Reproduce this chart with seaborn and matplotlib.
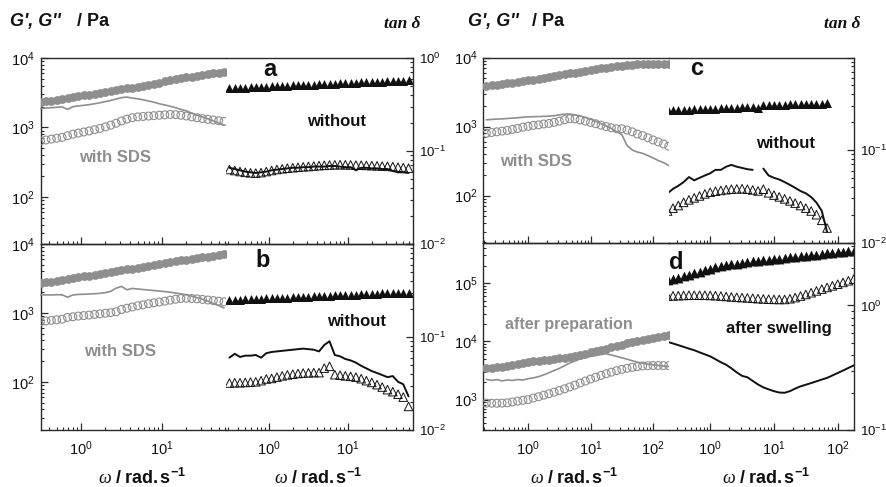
import numpy as np
import matplotlib
matplotlib.use("Agg")
import matplotlib.pyplot as plt
import seaborn as sns
from matplotlib.ticker import LogLocator, NullFormatter, FuncFormatter

# ---------------------------------------------------------------- data
# angular frequency grids (rad/s)
omega_L = [0.316, 0.369, 0.43, 0.501, 0.584, 0.681, 0.794, 0.926, 1.08, 1.26,
           1.47, 1.71, 2.0, 2.33, 2.71, 3.16, 3.69, 4.3, 5.01, 5.84,
           6.81, 7.94, 9.26, 10.8, 12.6, 14.7, 17.1, 20.0, 23.3, 27.1,
           31.6, 36.9, 43.0, 50.1, 58.4]
omega_R = [0.215, 0.261, 0.316, 0.383, 0.464, 0.562, 0.681, 0.825, 1.0, 1.21,
           1.47, 1.78, 2.15, 2.61, 3.16, 3.83, 4.64, 5.62, 6.81, 8.25,
           10.0, 12.1, 14.7, 17.8, 21.5, 26.1, 31.6, 38.3, 46.4, 56.2,
           68.1, 82.5, 100, 121, 147, 178]

# panel a
a_sds_gp = [2300, 2370, 2440, 2510, 2580, 2650, 2730, 2810, 2890, 2980, 3070, 3150,
            3250, 3340, 3440, 3540, 3650, 3760, 3880, 4000, 4120, 4250, 4420, 4600,
            4800, 4950, 5100, 5250, 5400, 5550, 5700, 5850, 6000, 6150, 6300]
a_sds_gpp = [640, 660, 680, 700, 720, 760, 800, 830, 860, 890, 930, 970, 1020, 1080,
             1150, 1240, 1320, 1380, 1420, 1440, 1460, 1480, 1500, 1520, 1540, 1530,
             1500, 1460, 1420, 1380, 1340, 1310, 1280, 1250, 1220]
a_sds_tan = [0.285, 0.29, 0.292, 0.295, 0.298, 0.28, 0.30, 0.305, 0.31, 0.315, 0.322,
             0.33, 0.34, 0.35, 0.362, 0.375, 0.38, 0.37, 0.365, 0.355, 0.345, 0.335,
             0.322, 0.313, 0.303, 0.292, 0.28, 0.27, 0.255, 0.243, 0.232, 0.222,
             0.21, 0.2, 0.19]
a_wo_gp = [3660, 3690, 3720, 3750, 3780, 3810, 3840, 3870, 3900, 3930, 3960, 3990,
           4020, 4050, 4080, 4110, 4140, 4170, 4210, 4240, 4270, 4310, 4340, 4370,
           4410, 4440, 4480, 4510, 4550, 4580, 4620, 4650, 4690, 4720, 4760]
a_wo_gpp = [248, 240, 232, 226, 222, 220, 224, 232, 240, 248, 254, 259, 263, 267, 271,
            274, 278, 282, 285, 288, 290, 291, 290, 289, 287, 286, 284, 282, 280, 278,
            276, 273, 268, 264, 259]
a_wo_tan = [0.066, 0.064, 0.062, 0.06, 0.059, 0.058, 0.059, 0.06, 0.062, 0.063, 0.064,
            0.065, 0.066, 0.066, 0.067, 0.067, 0.068, 0.068, 0.068, 0.069, 0.069,
            0.068, 0.067, 0.067, 0.062, 0.066, 0.066, 0.065, 0.065, 0.064, 0.064,
            0.061, 0.059, 0.059, 0.058]

# panel b
b_sds_gp = [2690, 2770, 2850, 2930, 3010, 3100, 3190, 3290, 3390, 3480, 3580, 3680,
            3790, 3900, 4020, 4140, 4270, 4400, 4540, 4680, 4820, 4970, 5120, 5300,
            5500, 5650, 5800, 5950, 6100, 6250, 6400, 6580, 6760, 6930, 7100]
b_sds_gpp = [750, 765, 780, 795, 810, 860, 880, 900, 915, 930, 950, 970, 990, 1010,
             1040, 1120, 1170, 1220, 1270, 1310, 1360, 1400, 1440, 1480, 1530, 1580,
             1620, 1630, 1620, 1600, 1570, 1540, 1510, 1480, 1450]
b_sds_tan = [0.283, 0.284, 0.283, 0.285, 0.284, 0.268, 0.283, 0.287, 0.288, 0.29,
             0.292, 0.295, 0.3, 0.31, 0.335, 0.35, 0.322, 0.333, 0.328, 0.324, 0.32,
             0.316, 0.312, 0.308, 0.303, 0.297, 0.291, 0.284, 0.275, 0.265, 0.255,
             0.242, 0.23, 0.218, 0.205]
b_wo_gp = [1540, 1550, 1560, 1570, 1580, 1600, 1610, 1620, 1630, 1650, 1660, 1670,
           1680, 1700, 1710, 1720, 1740, 1750, 1760, 1780, 1790, 1800, 1820, 1830,
           1850, 1860, 1880, 1890, 1900, 1920, 1930, 1940, 1950, 1960, 1970]
b_wo_gpp = [96, 97, 97, 98, 99, 100, 104, 110, 112, 117, 122, 126, 129, 132, 134, 135,
            136, 136, 158, 168, 127, 125, 122, 120, 117, 111, 104, 98, 91, 84, 77, 72,
            66, 60, 44]
b_wo_tan = [0.06, 0.066, 0.061, 0.063, 0.063, 0.064, 0.06, 0.067, 0.069, 0.07, 0.071,
            0.072, 0.073, 0.074, 0.075, 0.074, 0.073, 0.07, 0.082, 0.09, 0.064, 0.062,
            0.058, 0.056, 0.053, 0.049, 0.046, 0.043, 0.041, 0.039, 0.037, 0.038,
            0.033, 0.031, 0.023]

# panel c
c_sds_gp = [3880, 3960, 4040, 4120, 4210, 4300, 4400, 4520, 4660, 4790, 4930, 5070,
            5210, 5400, 5560, 5720, 5890, 6060, 6230, 6420, 6600, 6780, 6960, 7140,
            7300, 7460, 7600, 7730, 7840, 7930, 8000, 8060, 8100, 8120, 8130, 8130]
c_sds_gpp = [800, 820, 840, 860, 880, 910, 940, 980, 1010, 1040, 1060, 1090, 1110,
             1150, 1200, 1260, 1300, 1290, 1250, 1200, 1150, 1100, 1050, 1000, 960,
             930, 930, 890, 840, 780, 740, 690, 640, 600, 560, 520]
c_sds_tan = [0.212, 0.214, 0.216, 0.217, 0.219, 0.221, 0.223, 0.226, 0.228, 0.229,
             0.23, 0.231, 0.232, 0.235, 0.24, 0.244, 0.245, 0.24, 0.233, 0.225, 0.215,
             0.204, 0.193, 0.182, 0.171, 0.158, 0.147, 0.112, 0.10, 0.095, 0.092,
             0.087, 0.082, 0.077, 0.073, 0.068]
c_wo_gp = [1725, 1735, 1745, 1755, 1765, 1775, 1790, 1800, 1810, 1825, 1835, 1850,
           1860, 1875, 1890, 1900, 1915, 1830, 2040, 2050, 2060, 2070, 2080, 2090,
           2100, 2110, 2120, 2130, 2140, 2150, 2160]
c_wo_gpp = [60, 66, 72, 80, 87, 93, 99, 106, 112, 116, 119, 122, 124, 125, 126, 124,
            121, 117, 124, 110, 102, 96, 90, 84, 78, 72, 66, 60, 53, 44, 34]
c_wo_tan = [0.034, 0.038, 0.041, 0.045, 0.051, 0.047, 0.05, 0.053, 0.056, 0.061,
            0.061, 0.066, 0.069, 0.066, 0.064, 0.062, 0.061, np.nan, 0.063, 0.053,
            0.05, 0.048, 0.045, 0.042, 0.039, 0.036, 0.034, 0.031, 0.027, 0.022, 0.013]

# panel d
d_prep_gp = [3420, 3500, 3590, 3680, 3780, 3900, 4030, 4200, 4400, 4530, 4650, 4770,
             4880, 4980, 5090, 5260, 5450, 5660, 5890, 6150, 6450, 6770, 7110, 7480,
             7880, 8310, 8770, 9240, 9700, 10150, 10600, 11050, 11500, 11950, 12350,
             12750]
d_prep_gpp = [870, 865, 865, 870, 880, 910, 940, 970, 1000, 1060, 1120, 1190, 1260,
              1340, 1430, 1530, 1650, 1770, 1920, 2080, 2250, 2420, 2600, 2780, 2960,
              3140, 3300, 3450, 3580, 3690, 3780, 3830, 3850, 3850, 3840, 3830]
d_prep_tan = [0.255, 0.25, 0.254, 0.248, 0.252, 0.25, 0.254, 0.252, 0.258, 0.262,
              0.268, 0.277, 0.288, 0.3, 0.312, 0.328, 0.345, 0.358, 0.372, 0.382, 0.39,
              0.396, 0.403, 0.41, 0.4, 0.39, 0.38, 0.37, 0.36, 0.35, 0.344, 0.338,
              0.334, 0.33, 0.326, 0.324]
d_swell_gp = [1.12e5, 1.18e5, 1.25e5, 1.32e5, 1.40e5, 1.48e5, 1.58e5, 1.68e5, 1.78e5,
              1.87e5, 1.95e5, 2.03e5, 2.10e5, 2.17e5, 2.24e5, 2.30e5, 2.36e5, 2.42e5,
              2.48e5, 2.54e5, 2.60e5, 2.65e5, 2.71e5, 2.77e5, 2.83e5, 2.90e5, 2.97e5,
              3.04e5, 3.10e5, 3.17e5, 3.24e5, 3.31e5, 3.38e5, 3.45e5, 3.52e5, 3.60e5]
d_swell_gpp = [6.0e4, 6.05e4, 6.1e4, 6.15e4, 6.2e4, 6.2e4, 6.2e4, 6.2e4, 6.15e4, 6.1e4,
               6.0e4, 5.9e4, 5.8e4, 5.72e4, 5.65e4, 5.58e4, 5.5e4, 5.42e4, 5.36e4,
               5.3e4, 5.27e4, 5.25e4, 5.25e4, 5.4e4, 5.65e4, 6.0e4, 6.4e4, 6.85e4,
               7.35e4, 7.9e4, 8.45e4, 9.0e4, 9.6e4, 1.03e5, 1.10e5, 1.17e5]
d_swell_tan = [0.51, 0.495, 0.48, 0.465, 0.45, 0.437, 0.42, 0.405, 0.39, 0.37, 0.35,
               0.334, 0.313, 0.29, 0.272, 0.265, 0.248, 0.232, 0.22, 0.212, 0.205, 0.2,
               0.199, 0.205, 0.215, 0.224, 0.231, 0.238, 0.246, 0.254, 0.262, 0.274,
               0.287, 0.3, 0.315, 0.33]

# ---------------------------------------------------------------- style
sns.set_theme(style="white")
plt.rcParams["font.family"] = ["Liberation Sans", "DejaVu Sans"]
plt.rcParams["mathtext.fontset"] = "custom"
plt.rcParams["mathtext.rm"] = "Liberation Sans"
plt.rcParams["mathtext.it"] = "Liberation Serif:italic"
plt.rcParams["mathtext.bf"] = "Liberation Sans:bold"
plt.rcParams["xtick.labelsize"] = 10.5
plt.rcParams["ytick.labelsize"] = 10.5

GRAY = "#8e8e8e"
INK = "#111111"
EDGE = "#2a2a2a"

W, H = 886, 487
fig = plt.figure(figsize=(W / 100, H / 100), dpi=100)


def box(x0, y0, x1, y1):
    return [x0 / W, 1 - y1 / H, (x1 - x0) / W, (y1 - y0) / H]


def dec_formatter(shown):
    def f(v, pos):
        e = int(round(np.log10(v)))
        if e in shown and abs(np.log10(v) - e) < 1e-6:
            return r"$\mathdefault{10^{%d}}$" % e
        return ""
    return FuncFormatter(f)


def log_y(axis, lim, shown):
    axis.set_yscale("log")
    axis.set_ylim(*lim)
    axis.yaxis.set_major_locator(LogLocator(base=10))
    axis.yaxis.set_minor_locator(LogLocator(base=10, subs=np.arange(2, 10)))
    axis.yaxis.set_major_formatter(dec_formatter(shown))
    axis.yaxis.set_minor_formatter(NullFormatter())


def make_half(rect, xlim, glim, tlim, g_shown, t_shown, side, xlabels):
    ax = fig.add_axes(rect)
    ax.set_xscale("log")
    ax.set_xlim(*xlim)
    ax.xaxis.set_major_locator(LogLocator(base=10))
    ax.xaxis.set_minor_locator(LogLocator(base=10, subs=np.arange(2, 10)))
    ax.xaxis.set_minor_formatter(NullFormatter())
    ax.xaxis.set_major_formatter(dec_formatter({-1, 0, 1, 2, 3}))
    log_y(ax, glim, g_shown)
    tax = ax.twinx()
    log_y(tax, tlim, t_shown)
    for a in (ax, tax):
        a.set_facecolor("none")
        a.grid(False)
        for s in a.spines.values():
            s.set_visible(False)
            s.set_color(EDGE)
            s.set_linewidth(1.0)
    ax.spines["top"].set_visible(True)
    ax.spines["bottom"].set_visible(True)
    ax.tick_params(axis="x", which="both", direction="in", bottom=True, top=False,
                   labelbottom=xlabels, pad=7, color=EDGE, labelcolor=INK)
    ax.tick_params(axis="x", which="major", length=5, width=0.9)
    ax.tick_params(axis="x", which="minor", length=2.5, width=0.8)
    if side == "left":
        ax.spines["left"].set_visible(True)
        ax.tick_params(axis="y", which="both", direction="in", left=True, right=False,
                       labelleft=True, pad=4, color=EDGE, labelcolor=INK)
        ax.tick_params(axis="y", which="major", length=5, width=0.9)
        ax.tick_params(axis="y", which="minor", length=2.5, width=0.8)
        tax.tick_params(axis="y", which="both", left=False, right=False,
                        labelleft=False, labelright=False)
    else:
        tax.spines["right"].set_visible(True)
        ax.tick_params(axis="y", which="both", left=False, right=False,
                       labelleft=False, labelright=False)
        tax.tick_params(axis="y", which="both", direction="in", right=True, left=False,
                        labelright=True, pad=4, labelsize=9.5, color=EDGE,
                        labelcolor=INK)
        tax.tick_params(axis="y", which="major", length=5, width=0.9)
        tax.tick_params(axis="y", which="minor", length=2.5, width=0.8)
    ax.set_xlabel("")
    ax.set_ylabel("")
    tax.set_ylabel("")
    return ax, tax


def filled(ax, w, g, color, marker, s):
    sns.scatterplot(x=w, y=g, ax=ax, marker=marker, s=s, color=color,
                    linewidth=0, legend=False, zorder=3)


def hollow(ax, w, g, color, marker, s, lw=0.75):
    sns.scatterplot(x=w, y=g, ax=ax, marker=marker, s=s, color=color,
                    linewidth=lw, legend=False, zorder=4)
    pts = ax.collections[-1]
    pts.set_facecolor("none")
    pts.set_edgecolor(color)


def tan_line(tax, w, tan, color, lw):
    w = np.asarray(w, float)
    t = np.asarray(tan, float)
    idx = np.flatnonzero(~np.isnan(t))
    for run in np.split(idx, np.where(np.diff(idx) > 1)[0] + 1):
        sns.lineplot(x=w[run], y=t[run], ax=tax, color=color, lw=lw,
                     estimator=None, sort=False, legend=False)
    tax.set_ylabel("")


# column geometry in pixels: (left, split, right), rows: (top, middle, bottom)
colL = (40.5, 226, 413)
colR = (483, 669, 854)
rowsL = (58, 244, 430)
rowsR = (57.5, 242.5, 430)

xlimL_sds, xlimL_wo = (0.316, 61.7), (0.286, 66.5)
xlimR_sds, xlimR_wo = (0.19, 180), (0.226, 180)

panels = [
    dict(col=colL, rows=rowsL, r=0, glim=(21, 1e4), tlim=(0.01, 1), gs={2, 3, 4},
         ts={0, -1, -2}, xl=(xlimL_sds, xlimL_wo), wl=omega_L, wr=omega_L,
         sds=(a_sds_gp, a_sds_gpp, a_sds_tan), wo=(a_wo_gp, a_wo_gpp, a_wo_tan),
         xlab=False),
    dict(col=colL, rows=rowsL, r=1, glim=(20, 1e4), tlim=(0.01, 1), gs={2, 3, 4},
         ts={-1, -2}, xl=(xlimL_sds, xlimL_wo), wl=omega_L, wr=omega_L,
         sds=(b_sds_gp, b_sds_gpp, b_sds_tan), wo=(b_wo_gp, b_wo_gpp, b_wo_tan),
         xlab=True),
    dict(col=colR, rows=rowsR, r=0, glim=(21, 1e4), tlim=(0.01, 1.0), gs={2, 3, 4},
         ts={-1, -2}, xl=(xlimR_sds, xlimR_wo), wl=omega_R, wr=omega_R[:31],
         sds=(c_sds_gp, c_sds_gpp, c_sds_tan), wo=(c_wo_gp, c_wo_gpp, c_wo_tan),
         xlab=False),
    dict(col=colR, rows=rowsR, r=1, glim=(300, 5e5), tlim=(0.1, 3.2), gs={3, 4, 5},
         ts={0, -1}, xl=(xlimR_sds, xlimR_wo), wl=omega_R, wr=omega_R,
         sds=(d_prep_gp, d_prep_gpp, d_prep_tan), wo=(d_swell_gp, d_swell_gpp, d_swell_tan),
         xlab=True),
]

for p in panels:
    x0, xm, x1 = p["col"]
    y0, y1 = p["rows"][p["r"]], p["rows"][p["r"] + 1]
    # left half: with surfactant / after preparation (grey)
    ax, tax = make_half(box(x0, y0, xm, y1), p["xl"][0], p["glim"], p["tlim"],
                        p["gs"], p["ts"], "left", p["xlab"])
    gp, gpp, tan = p["sds"]
    filled(ax, p["wl"], gp, GRAY, "o", 40)
    hollow(ax, p["wl"], gpp, GRAY, "o", 32, lw=0.8)
    tan_line(tax, p["wl"], tan, GRAY, 1.2)
    # right half: without surfactant / after swelling (black)
    ax, tax = make_half(box(xm, y0, x1, y1), p["xl"][1], p["glim"], p["tlim"],
                        p["gs"], p["ts"], "right", p["xlab"])
    gp, gpp, tan = p["wo"]
    big = 50 if p["glim"][1] > 1e5 else 42
    filled(ax, p["wr"], gp, INK, "^", big)
    hollow(ax, p["wr"], gpp, INK, "^", 38, lw=0.7)
    tan_line(tax, p["wr"], tan, INK, 1.4)


def ftext(x, y, s, **kw):
    fig.text(x / W, 1 - y / H, s, **kw)


# axis titles
for xg, xp in ((10, 77), (468, 532)):
    ftext(xg, 26, "G', G''", fontsize=13, fontweight="bold", style="italic",
          color=INK, va="baseline")
    ftext(xp, 26, "/ Pa", fontsize=13, fontweight="bold", color=INK, va="baseline")
for xt in (420, 860):
    ftext(xt, 28, "tan δ", fontsize=12.5, fontweight="bold", style="italic",
          family="Liberation Serif", color=INK, ha="right", va="baseline")
for xc in (142, 318, 574, 766):
    ftext(xc, 478, r"$\omega\ \mathbf{/\ rad.s^{-1}}$", fontsize=13,
          color=INK, ha="center", va="center")

# panel letters
for (xl, yl, s) in ((263, 76, "a"), (255, 267, "b"), (690, 75, "c"), (669, 269, "d")):
    ftext(xl, yl, s, fontsize=17, fontweight="bold", color=INK, va="baseline")

# curve annotations
ftext(115, 157, "with SDS", fontsize=12, fontweight="bold", color=GRAY, ha="center", va="center")
ftext(120, 351, "with SDS", fontsize=12, fontweight="bold", color=GRAY, ha="center", va="center")
ftext(536, 161, "with SDS", fontsize=12, fontweight="bold", color=GRAY, ha="center", va="center")
ftext(569, 325, "after preparation", fontsize=11.5, fontweight="bold", color=GRAY,
      ha="center", va="center")
ftext(337, 122, "without", fontsize=12, fontweight="bold", color=INK, ha="center", va="center")
ftext(357, 322, "without", fontsize=12, fontweight="bold", color=INK, ha="center", va="center")
ftext(786, 143, "without", fontsize=12, fontweight="bold", color=INK, ha="center", va="center")
ftext(779, 329, "after swelling", fontsize=12, fontweight="bold", color=INK,
      ha="center", va="center")

fig.savefig("out.png", dpi=100)
